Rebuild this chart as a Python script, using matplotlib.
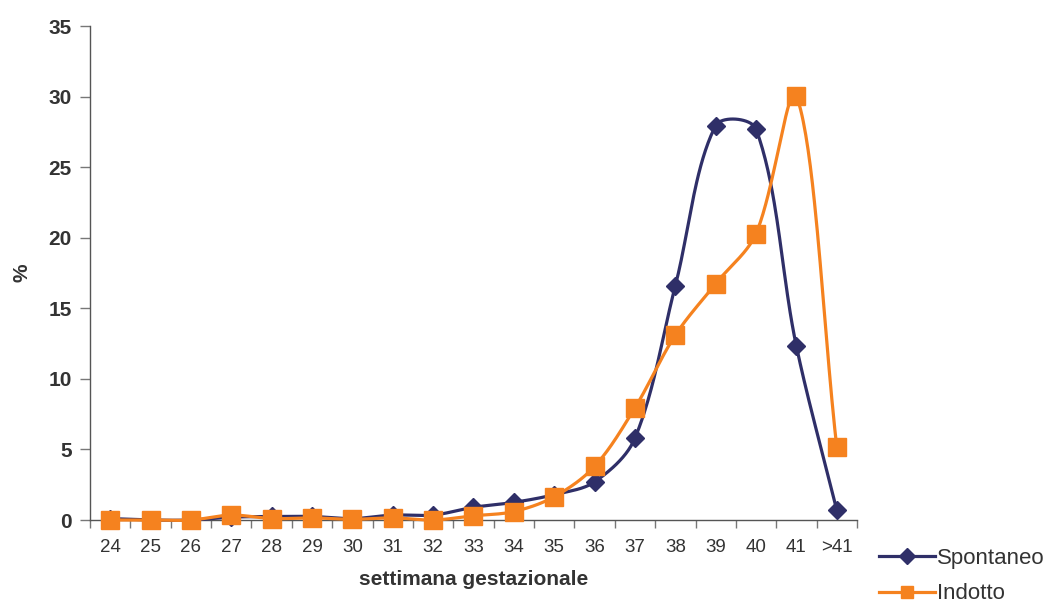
import numpy as np
import matplotlib
matplotlib.use("Agg")
import matplotlib.pyplot as plt
from matplotlib.lines import Line2D

categories = ["24", "25", "26", "27", "28", "29", "30", "31", "32", "33", "34", "35",
              "36", "37", "38", "39", "40", "41", ">41"]
spontaneo = [0.1, 0.0, 0.0, 0.2, 0.25, 0.25, 0.1, 0.35, 0.35, 0.9, 1.25, 1.8,
             2.7, 5.8, 16.6, 27.95, 27.7, 12.3, 0.7]
indotto = [0.0, 0.0, 0.0, 0.35, 0.1, 0.15, 0.05, 0.15, 0.0, 0.3, 0.6, 1.65,
           3.8, 7.95, 13.1, 16.75, 20.3, 30.05, 5.15]
yticks = [0, 5, 10, 15, 20, 25, 30, 35]

plt.rcParams['font.family'] = ['Liberation Sans', 'DejaVu Sans']

NAVY = "#2F2F68"
ORANGE = "#F5821F"
TXT = "#333333"

FIG_W, FIG_H = 1051, 606
AX = [0.0856, 0.1419, 0.7298, 0.8151]
YMAX = 35.0


def smooth(y, n=40):
    """Chord-weighted Bezier smoothing (spreadsheet-style smoothed line)."""
    x = np.arange(len(y), dtype=float)
    y = np.asarray(y, dtype=float)
    sxp = AX[2] * FIG_W / len(y)
    syp = AX[3] * FIG_H / YMAX
    P = np.column_stack([x * sxp, y * syp])
    m = len(P)
    xs, ys = [], []
    for i in range(m - 1):
        p0 = P[max(i - 1, 0)]
        p1 = P[i]
        p2 = P[i + 1]
        p3 = P[min(i + 2, m - 1)]
        d01 = np.hypot(*(p1 - p0))
        d12 = np.hypot(*(p2 - p1))
        d23 = np.hypot(*(p3 - p2))
        r1 = d12 / (d01 + d12) if d01 + d12 > 0 else 0.5
        r2 = d12 / (d12 + d23) if d12 + d23 > 0 else 0.5
        c1 = p1 + (p2 - p0) * r1 / 3.0
        c2 = p2 - (p3 - p1) * r2 / 3.0
        t = np.linspace(0, 1, n)[:, None]
        pts = ((1 - t) ** 3) * p1 + 3 * ((1 - t) ** 2) * t * c1 + 3 * (1 - t) * t ** 2 * c2 + t ** 3 * p2
        xs.extend(pts[:, 0] / sxp)
        ys.extend(pts[:, 1] / syp)
    return np.array(xs), np.array(ys)


fig = plt.figure(figsize=(FIG_W / 100, FIG_H / 100), dpi=100)
ax = fig.add_axes(AX)

xpos = np.arange(len(categories))
for vals, col, mk, ms in [(spontaneo, NAVY, "D", 9.5), (indotto, ORANGE, "s", 12.5)]:
    sx, sy = smooth(vals)
    ax.plot(sx, sy, color=col, lw=2.3, zorder=3, clip_on=False)
    ax.plot(xpos, vals, linestyle="none", marker=mk, markersize=ms,
            color=col, markeredgecolor=col, zorder=4, clip_on=False)

ax.set_xlim(-0.5, len(categories) - 0.5)
ax.set_ylim(0, YMAX)
ax.set_yticks(yticks)
ax.set_yticklabels([str(v) for v in yticks], fontsize=15, fontweight="bold", color=TXT)
ax.set_xticks(xpos)
ax.set_xticklabels(categories, fontsize=13.5, color=TXT)
ax.set_xticks(np.arange(-0.5, len(categories), 1.0), minor=True)
ax.tick_params(axis="x", which="major", length=0, pad=14)
ax.tick_params(axis="x", which="minor", length=6, color="#777777", width=1)
ax.tick_params(axis="y", which="major", length=7, color="#777777", width=1, pad=6)

for s in ["top", "right"]:
    ax.spines[s].set_visible(False)
for s in ["left", "bottom"]:
    ax.spines[s].set_color("#555555")
    ax.spines[s].set_linewidth(1)

ax.set_xlabel("settimana gestazionale", fontsize=15, fontweight="bold", color=TXT, labelpad=10)
ax.set_ylabel("%", fontsize=15, fontweight="bold", color=TXT, labelpad=12)

handles = [Line2D([], [], color=NAVY, lw=2.3, marker="D", markersize=8),
           Line2D([], [], color=ORANGE, lw=2.3, marker="s", markersize=9)]
fig.legend(handles, ["Spontaneo", "Indotto"], loc="center left",
           bbox_to_anchor=(879 / FIG_W, (FIG_H - 576) / FIG_H), frameon=False,
           fontsize=16, borderpad=0, borderaxespad=0,
           handlelength=2.5, handletextpad=0.12, labelspacing=0.66,
           labelcolor=TXT)

fig.savefig("out.png", dpi=100)
